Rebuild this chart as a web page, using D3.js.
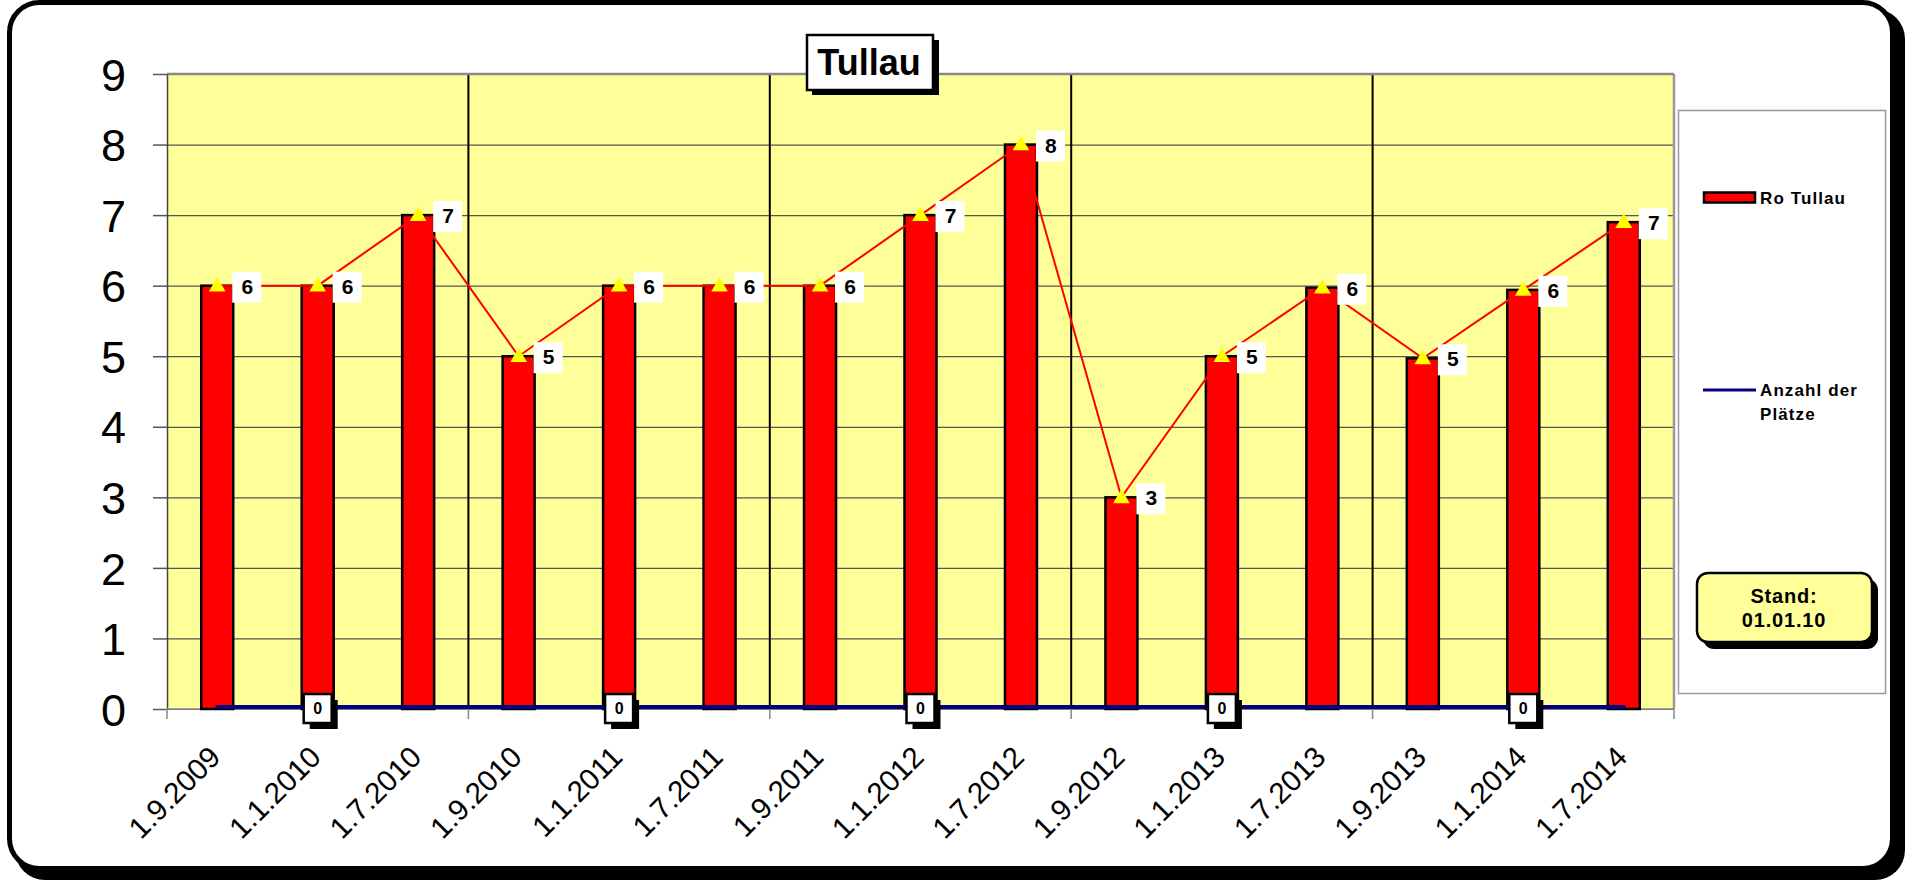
<!DOCTYPE html>
<html>
<head>
<meta charset="utf-8">
<script src="https://cdn.jsdelivr.net/npm/d3@7"></script>
<style>
  body { margin: 0; background: #fff; }
  svg { display: block; font-family: "Liberation Sans", Arial, sans-serif; }
</style>
</head>
<body>
<script>
// chart data
var categories = ["1.9.2009", "1.1.2010", "1.7.2010", "1.9.2010", "1.1.2011", "1.7.2011",
                  "1.9.2011", "1.1.2012", "1.7.2012", "1.9.2012", "1.1.2013", "1.7.2013",
                  "1.9.2013", "1.1.2014", "1.7.2014"];
var roTullau = [6, 6, 7, 5, 6, 6, 6, 7, 8, 3, 5, 5.97, 4.97, 5.94, 6.9];
var anzahlPlaetze = [0, 0, 0, 0, 0, 0, 0, 0, 0, 0, 0, 0, 0, 0, 0];
var zeroLabelAt = ["1.1.2010", "1.1.2011", "1.1.2012", "1.1.2013", "1.1.2014"];
var yTicks = [0, 1, 2, 3, 4, 5, 6, 7, 8, 9];

var W = 1905, H = 880;
var pLeft = 167, pRight = 1674, pTop = 74, pBottom = 709;

var svg = d3.select("body").append("svg").attr("width", W).attr("height", H);

// outer frame with shadow
svg.append("rect").attr("x", 15).attr("y", 9).attr("width", 1890).attr("height", 871)
    .attr("rx", 30).attr("fill", "#000");
svg.append("rect").attr("x", 9.5).attr("y", 2.5).attr("width", 1883).attr("height", 866)
    .attr("rx", 30).attr("fill", "#fff").attr("stroke", "#000").attr("stroke-width", 5);

var x = d3.scaleBand().domain(categories).range([pLeft, pRight]);
var y = d3.scaleLinear().domain([0, 9]).range([pBottom, pTop]);
var cx = function(d) { return x(d) + x.bandwidth() / 2; };

// plot area
svg.append("rect").attr("x", pLeft).attr("y", pTop).attr("width", pRight - pLeft).attr("height", pBottom - pTop)
    .attr("fill", "#ffff99");

// gridlines
svg.append("g").attr("transform", "translate(" + pLeft + ",0)")
    .call(d3.axisLeft(y).tickValues(yTicks).tickSize(-(pRight - pLeft)).tickFormat(""))
    .call(function(g) {
      g.select(".domain").remove();
      g.selectAll("line").attr("stroke", "#555").attr("stroke-width", 1.2);
    });

// separators every 3 categories
var sepIdx = [3, 6, 9, 12];
svg.selectAll("line.sep").data(sepIdx).enter().append("line")
    .attr("class", "sep")
    .attr("x1", function(i) { return x(categories[i]); })
    .attr("x2", function(i) { return x(categories[i]); })
    .attr("y1", pTop).attr("y2", pBottom)
    .attr("stroke", "#000").attr("stroke-width", 2);

// plot border top/right
svg.append("line").attr("x1", pLeft).attr("x2", pRight).attr("y1", pTop).attr("y2", pTop)
    .attr("stroke", "#888").attr("stroke-width", 2.5);
svg.append("line").attr("x1", pRight).attr("x2", pRight).attr("y1", pTop).attr("y2", pBottom)
    .attr("stroke", "#999").attr("stroke-width", 2.5);

// y axis
svg.append("g").attr("transform", "translate(" + pLeft + ",0)")
    .call(d3.axisLeft(y).tickValues(yTicks).tickSize(14).tickPadding(27).tickSizeOuter(0))
    .call(function(g) {
      g.select(".domain").attr("stroke", "#444").attr("stroke-width", 1.5);
      g.selectAll("line").attr("stroke", "#555").attr("stroke-width", 1.5);
      g.selectAll("text").attr("font-size", 45).attr("fill", "#000")
        .attr("font-family", "Liberation Sans, Arial, sans-serif").attr("dy", "0.36em");
    });

// x axis line and ticks every 3 categories
svg.append("line").attr("x1", pLeft).attr("x2", pRight).attr("y1", pBottom).attr("y2", pBottom)
    .attr("stroke", "#888").attr("stroke-width", 1.5);
var tickIdx = [0, 3, 6, 9, 12, 15];
svg.selectAll("line.xtick").data(tickIdx).enter().append("line")
    .attr("class", "xtick")
    .attr("x1", function(i) { return pLeft + i * x.step(); })
    .attr("x2", function(i) { return pLeft + i * x.step(); })
    .attr("y1", pBottom).attr("y2", pBottom + 10)
    .attr("stroke", "#888").attr("stroke-width", 1.5);

// x labels
svg.selectAll("text.xl").data(categories).enter().append("text")
    .attr("class", "xl")
    .attr("transform", function(d) { return "translate(" + (cx(d) + 5) + "," + 759 + ") rotate(-45)"; })
    .attr("text-anchor", "end")
    .attr("font-size", 29.5)
    .attr("fill", "#000")
    .text(function(d) { return d; });

// bars
svg.selectAll("rect.bar").data(roTullau).enter().append("rect")
    .attr("class", "bar")
    .attr("x", function(d, i) { return cx(categories[i]) - 16; })
    .attr("y", function(d) { return y(d); })
    .attr("width", 32)
    .attr("height", function(d) { return pBottom - y(d); })
    .attr("fill", "#ff0000").attr("stroke", "#000").attr("stroke-width", 2.5);

// Anzahl der Plaetze line
var lineBlue = d3.line().x(function(d, i) { return cx(categories[i]); }).y(function(d) { return y(d) - 2; });
svg.append("path").datum(anzahlPlaetze).attr("d", lineBlue)
    .attr("fill", "none").attr("stroke", "#000080").attr("stroke-width", 4).attr("stroke-linecap", "round");

// red connecting line
var lineRed = d3.line().x(function(d, i) { return cx(categories[i]); }).y(function(d) { return y(d); });
svg.append("path").datum(roTullau).attr("d", lineRed)
    .attr("fill", "none").attr("stroke", "#ff0000").attr("stroke-width", 2);

// triangles
svg.selectAll("path.tri").data(roTullau).enter().append("path")
    .attr("class", "tri")
    .attr("d", d3.symbol().type(d3.symbolTriangle).size(120))
    .attr("transform", function(d, i) { return "translate(" + cx(categories[i]) + "," + (y(d) + 1) + ")"; })
    .attr("fill", "#ffff00");

// value labels with white boxes
var lab = svg.selectAll("g.lab").data(roTullau).enter().append("g")
    .attr("class", "lab")
    .attr("transform", function(d, i) { return "translate(" + cx(categories[i]) + "," + y(d) + ")"; });
lab.append("rect").attr("x", 15).attr("y", -14).attr("width", 29).attr("height", 31).attr("fill", "#fff");
lab.append("text").attr("x", 30).attr("y", 8).attr("text-anchor", "middle")
    .attr("font-size", 21).attr("font-weight", "bold").attr("fill", "#000")
    .text(function(d) { return d3.format(".0f")(d); });

// zero labels on the blue line
var zl = svg.selectAll("g.zl").data(zeroLabelAt).enter().append("g")
    .attr("class", "zl")
    .attr("transform", function(d) { return "translate(" + cx(d) + "," + (y(0) - 1) + ")"; });
zl.append("rect").attr("x", -8).attr("y", -8).attr("width", 28).attr("height", 29).attr("fill", "#000");
zl.append("rect").attr("x", -14).attr("y", -14).attr("width", 28).attr("height", 29)
    .attr("fill", "#fff").attr("stroke", "#000").attr("stroke-width", 2.5);
zl.append("text").attr("x", 0).attr("y", 6).attr("text-anchor", "middle")
    .attr("font-size", 16).attr("font-weight", "bold").text(function() { return anzahlPlaetze[0]; });

// title
var tg = svg.append("g");
tg.append("rect").attr("x", 812).attr("y", 40).attr("width", 127).attr("height", 55).attr("fill", "#000");
tg.append("rect").attr("x", 807).attr("y", 35).attr("width", 126).attr("height", 55)
    .attr("fill", "#fff").attr("stroke", "#000").attr("stroke-width", 2.5);
tg.append("text").attr("x", 869).attr("y", 75).attr("text-anchor", "middle")
    .attr("font-size", 36).attr("font-weight", "bold").text("Tullau");

// legend
var lg = svg.append("g");
lg.append("rect").attr("x", 1678.5).attr("y", 110.5).attr("width", 207).attr("height", 583)
    .attr("fill", "#fff").attr("stroke", "#999").attr("stroke-width", 1.5);
lg.append("rect").attr("x", 1704).attr("y", 192.5).attr("width", 51).attr("height", 10)
    .attr("fill", "#ff0000").attr("stroke", "#000").attr("stroke-width", 2.5);
lg.append("text").attr("x", 1760).attr("y", 204).attr("font-size", 17).attr("font-weight", "bold")
    .attr("letter-spacing", 1.1).text("Ro Tullau");
lg.append("line").attr("x1", 1703).attr("x2", 1756).attr("y1", 390).attr("y2", 390)
    .attr("stroke", "#000080").attr("stroke-width", 3);
lg.append("text").attr("x", 1760).attr("y", 396).attr("font-size", 17).attr("font-weight", "bold")
    .attr("letter-spacing", 1.1).text("Anzahl der");
lg.append("text").attr("x", 1760).attr("y", 420).attr("font-size", 17).attr("font-weight", "bold")
    .attr("letter-spacing", 1.1).text("Plätze");

// Stand box
lg.append("rect").attr("x", 1703).attr("y", 579).attr("width", 175).attr("height", 70)
    .attr("rx", 11).attr("fill", "#000");
lg.append("rect").attr("x", 1697).attr("y", 573).attr("width", 175).attr("height", 69)
    .attr("rx", 11).attr("fill", "#ffff99").attr("stroke", "#000").attr("stroke-width", 2.5);
lg.append("text").attr("x", 1784).attr("y", 603).attr("text-anchor", "middle").attr("font-size", 20)
    .attr("font-weight", "bold").attr("letter-spacing", 0.8).text("Stand:");
lg.append("text").attr("x", 1784).attr("y", 627).attr("text-anchor", "middle").attr("font-size", 20)
    .attr("font-weight", "bold").attr("letter-spacing", 0.8).text("01.01.10");
</script>
</body>
</html>
